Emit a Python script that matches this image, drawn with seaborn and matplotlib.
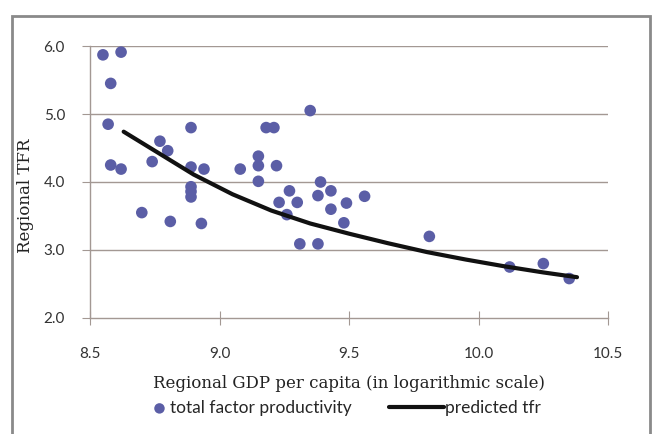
import numpy as np
import pandas as pd
import seaborn as sns
import matplotlib.pyplot as plt
from matplotlib.patches import Rectangle

# scatter: regional GDP per capita (log) vs regional TFR
gdp_log = [8.55, 8.62, 8.58, 8.57, 8.89, 8.77, 8.80, 8.58, 8.62, 8.74,
           8.89, 8.94, 9.08, 9.15, 9.15, 9.22, 9.15, 9.18, 9.21, 9.35,
           8.89, 8.89, 8.89, 8.70, 8.81, 8.93, 9.27, 9.30, 9.23, 9.39,
           9.38, 9.43, 9.49, 9.56, 9.43, 9.26, 9.48, 9.31, 9.38, 9.81,
           10.12, 10.25, 10.35]
tfr = [5.87, 5.91, 5.45, 4.85, 4.80, 4.60, 4.46, 4.25, 4.19, 4.30,
       4.22, 4.19, 4.19, 4.38, 4.24, 4.24, 4.01, 4.80, 4.80, 5.05,
       3.93, 3.86, 3.78, 3.55, 3.42, 3.39, 3.87, 3.70, 3.70, 4.00,
       3.80, 3.87, 3.69, 3.79, 3.60, 3.52, 3.40, 3.09, 3.09, 3.20,
       2.75, 2.80, 2.58]

# predicted curve
pred_x = [8.63, 8.75, 8.90, 9.05, 9.20, 9.35, 9.50, 9.65, 9.80, 9.95, 10.10, 10.25, 10.38]
pred_y = [4.74, 4.46, 4.11, 3.82, 3.58, 3.39, 3.24, 3.10, 2.97, 2.86, 2.76, 2.67, 2.60]

x_ticks = [8.5, 9.0, 9.5, 10.0, 10.5]
y_ticks = [2.0, 3.0, 4.0, 5.0, 6.0]

pts = pd.DataFrame({'gdp': gdp_log, 'tfr': tfr})
curve = pd.DataFrame({'gdp': pred_x, 'tfr': pred_y})

sns.set_style("white")
plt.rcParams['font.family'] = ['Lato', 'DejaVu Sans']

grid_col = '#a39893'
fig = plt.figure(figsize=(6.54, 4.34), dpi=100)
ax = fig.add_axes([0.1376, 0.2673, 0.7922, 0.6267])

sns.scatterplot(data=pts, x='gdp', y='tfr', ax=ax, s=70, color='#5b5ea6',
                edgecolor='none', label='total factor productivity', zorder=3)
sns.lineplot(data=curve, x='gdp', y='tfr', ax=ax, color='#111111', linewidth=3,
             label='predicted tfr', zorder=4)

ax.set_xlim(8.5, 10.5)
ax.set_ylim(2.0, 6.0)
ax.set_xticks(x_ticks)
ax.set_yticks(y_ticks)
ax.set_xticklabels([f'{v:.1f}' for v in x_ticks])
ax.set_yticklabels([f'{v:.1f}' for v in y_ticks])
for v in y_ticks[1:]:
    ax.axhline(v, color=grid_col, linewidth=1, zorder=1)

for side in ['top', 'right']:
    ax.spines[side].set_visible(False)
for side in ['left', 'bottom']:
    ax.spines[side].set_color(grid_col)
    ax.spines[side].set_linewidth(1)
ax.tick_params(axis='x', direction='inout', length=10, color=grid_col,
               pad=16, labelsize=11, labelcolor='#333333')
ax.tick_params(axis='y', direction='out', length=6, color=grid_col,
               pad=12, labelsize=11, labelcolor='#333333')
ax.tick_params(bottom=True, left=True)

ax.set_xlabel('Regional GDP per capita (in logarithmic scale)', family='DejaVu Serif',
              fontsize=12, color='#222222', labelpad=10)
ax.set_ylabel('Regional TFR', family='DejaVu Serif', fontsize=12, color='#222222')
ax.yaxis.set_label_coords(-0.108, 0.45)

ax.get_legend().remove()
h, l = ax.get_legend_handles_labels()
fig.legend([h[0]], [l[0]], loc='center left', bbox_to_anchor=(0.212, 0.06), frameon=False,
           fontsize=12.5, handlelength=0.6, handletextpad=0.3, markerscale=0.9)
fig.legend([h[1]], [l[1]], loc='center left', bbox_to_anchor=(0.571, 0.06), frameon=False,
           fontsize=12.5, handlelength=3.15, handletextpad=0.05)

# outer frame around the chart
fig.patches.append(Rectangle((12 / 654, -0.05), 638 / 654, 1.05 - 16 / 434,
                             transform=fig.transFigure, fill=False,
                             edgecolor='#8a8a8a', linewidth=2))

plt.savefig('out.png', dpi=100)
